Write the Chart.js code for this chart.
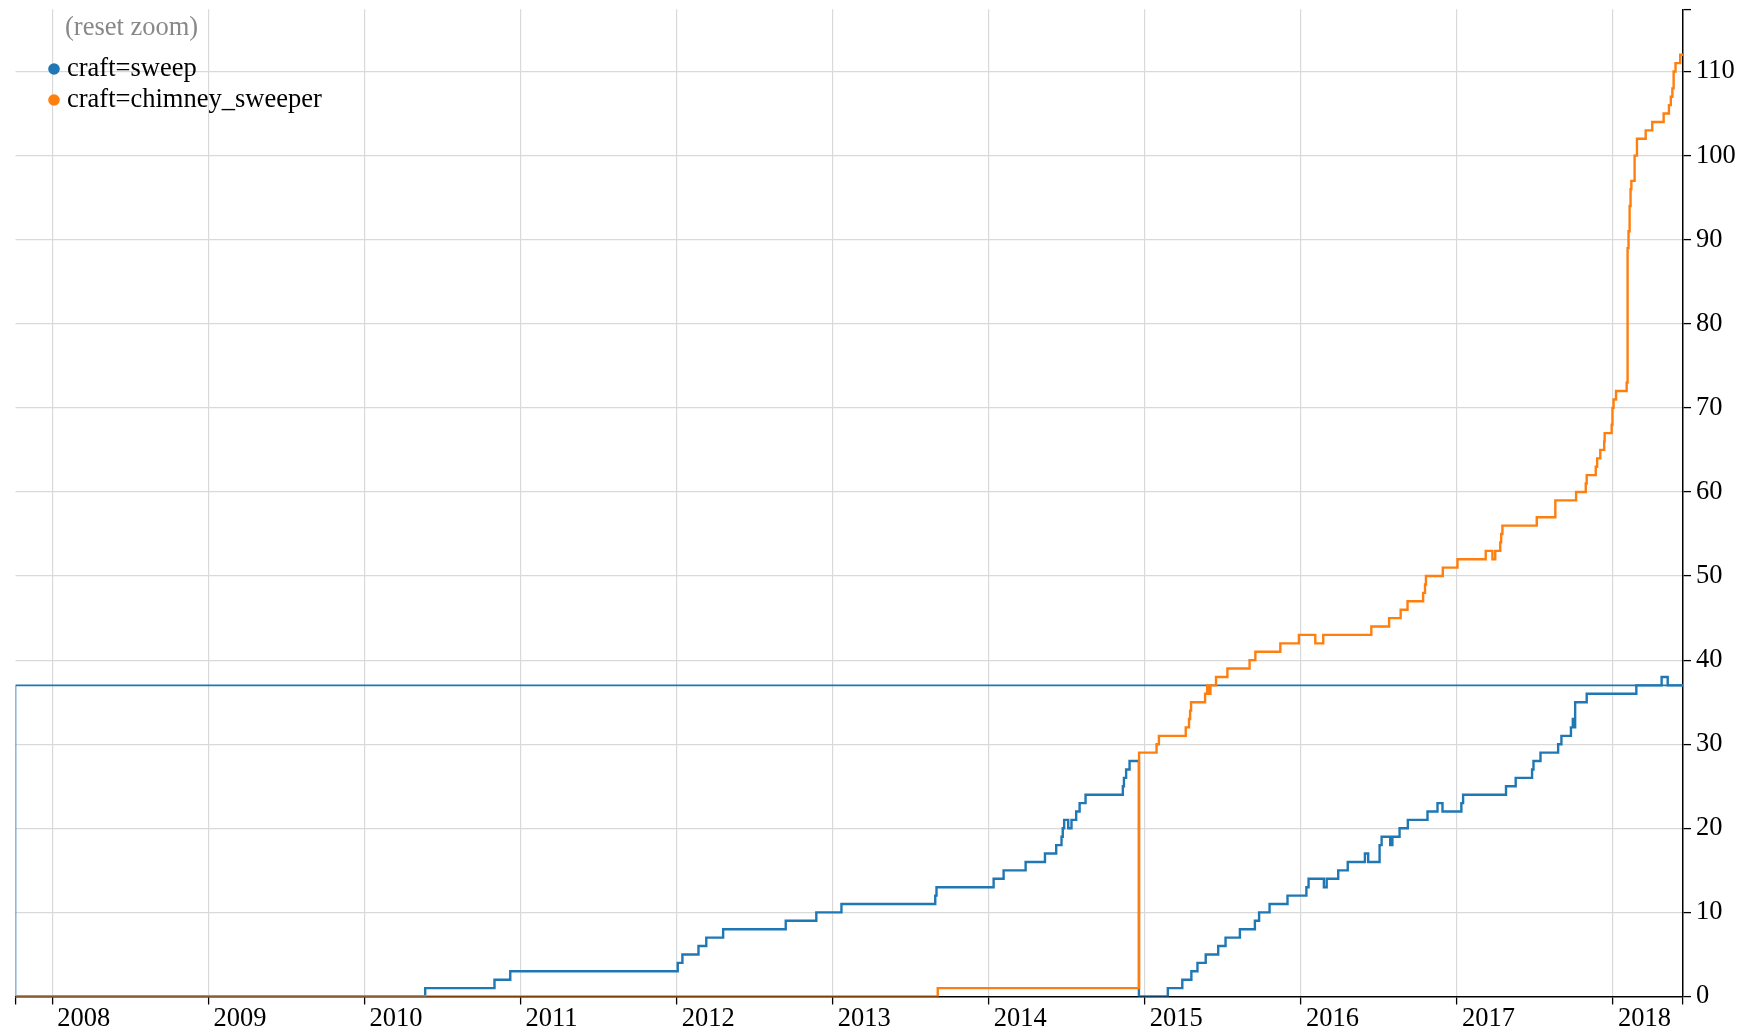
<!DOCTYPE html>
<html>
<head>
<meta charset="utf-8">
<title>craft=sweep / craft=chimney_sweeper</title>
<script src="https://cdn.jsdelivr.net/npm/chart.js@4.4.1/dist/chart.umd.min.js"></script>
<style>
  html, body { margin: 0; padding: 0; background: #fff; }
  canvas { display: block; }
</style>
</head>
<body>
<canvas id="chart" width="1756" height="1035"></canvas>
<script>
// x values are decimal years, y values are running counts
const xMin = 2007.764;
const xMax = 2018.448;
const yMax = 117.4;

const yearTicks = [2008, 2009, 2010, 2011, 2012, 2013, 2014, 2015, 2016, 2017, 2018];
const countTicks = [0, 10, 20, 30, 40, 50, 60, 70, 80, 90, 100, 110];

const seriesLabels = ['craft=sweep', 'craft=chimney_sweeper'];
const seriesColors = ['#1f77b4', '#ff7f0e'];

// the sweep path runs back to the start at the end, as in the picture
const sweepDates = [
  2007.764, 2010.389, 2010.833, 2010.934, 2012.007, 2012.037, 2012.14, 2012.19, 2012.298,
  2012.699, 2012.895, 2013.056, 2013.657, 2013.665, 2014.031, 2014.095, 2014.236, 2014.36,
  2014.432, 2014.466, 2014.474, 2014.483, 2014.509, 2014.53, 2014.56, 2014.582, 2014.62,
  2014.859, 2014.866, 2014.88, 2014.902, 2014.962, 2015.147, 2015.24, 2015.298, 2015.337,
  2015.39, 2015.47, 2015.517, 2015.609, 2015.705, 2015.732, 2015.799, 2015.914, 2016.035,
  2016.049, 2016.147, 2016.165, 2016.239, 2016.30, 2016.41, 2016.431, 2016.504, 2016.517,
  2016.572, 2016.586, 2016.632, 2016.685, 2016.811, 2016.875, 2016.907, 2017.028, 2017.039,
  2017.314, 2017.376, 2017.481, 2017.49, 2017.535, 2017.648, 2017.669, 2017.73, 2017.742,
  2017.75, 2017.757, 2017.831, 2018.149, 2018.311, 2018.35, 2018.448, 2007.764
];
const sweepCounts = [
  0, 1, 2, 3, 4, 5, 6, 7, 8,
  9, 10, 11, 12, 13, 14, 15, 16, 17,
  18, 19, 20, 21, 20, 21, 22, 23, 24,
  25, 26, 27, 28, 0, 1, 2, 3, 4,
  5, 6, 7, 8, 9, 10, 11, 12, 13,
  14, 13, 14, 15, 16, 17, 16, 18, 19,
  18, 19, 20, 21, 22, 23, 22, 23, 24,
  25, 26, 27, 28, 29, 30, 31, 32, 33,
  32, 35, 36, 37, 38, 37, 37, 0
];

const chimneyDates = [
  2007.764, 2013.673, 2014.963, 2015.075, 2015.09, 2015.262, 2015.283, 2015.29, 2015.296,
  2015.386, 2015.399, 2015.41, 2015.42, 2015.456, 2015.529, 2015.671, 2015.708, 2015.868,
  2015.987, 2016.092, 2016.143, 2016.451, 2016.565, 2016.639, 2016.683, 2016.783, 2016.795,
  2016.801, 2016.909, 2017.003, 2017.184, 2017.227, 2017.245, 2017.277, 2017.283, 2017.291,
  2017.511, 2017.63, 2017.763, 2017.825, 2017.831, 2017.889, 2017.898, 2017.918, 2017.943,
  2017.946, 2017.991, 2017.996, 2018.003, 2018.019, 2018.087, 2018.093, 2018.099, 2018.106,
  2018.112, 2018.117, 2018.138, 2018.153, 2018.209, 2018.251, 2018.324, 2018.358, 2018.37,
  2018.38, 2018.388, 2018.4, 2018.43, 2018.448
];
const chimneyCounts = [
  0, 1, 29, 30, 31, 32, 33, 34, 35,
  36, 37, 36, 37, 38, 39, 40, 41, 42,
  43, 42, 43, 44, 45, 46, 47, 48, 49,
  50, 51, 52, 53, 52, 53, 54, 55, 56,
  57, 59, 60, 61, 62, 63, 64, 65, 66,
  67, 68, 70, 71, 72, 73, 89, 91, 94,
  96, 97, 100, 102, 103, 104, 105, 106, 107,
  108, 110, 111, 112, 112
];

const toPoints = (xs, ys) => xs.map((x, i) => ({ x, y: ys[i] }));

const serif = '"Liberation Serif", "Times New Roman", serif';
const fontSize = 26.5;
const gridGray = '#d9d9d9';
const clear = 'rgba(0,0,0,0)';

Chart.defaults.font.family = serif;
Chart.defaults.font.size = fontSize;
Chart.defaults.color = '#000';

// "(reset zoom)" note and the dot legend in the top left corner
const cornerText = {
  id: 'cornerText',
  afterDraw(chart) {
    const ctx = chart.ctx;
    ctx.save();
    ctx.font = fontSize + 'px ' + serif;
    ctx.textBaseline = 'alphabetic';
    ctx.fillStyle = '#888';
    ctx.fillText('(reset zoom)', 65, 35);
    seriesLabels.forEach((label, i) => {
      const cy = 69 + i * 31;
      ctx.fillStyle = seriesColors[i];
      ctx.beginPath();
      ctx.arc(54, cy, 5.8, 0, Math.PI * 2);
      ctx.fill();
      ctx.fillStyle = '#000';
      ctx.fillText(label, 67, cy + 7);
    });
    ctx.restore();
  }
};

new Chart(document.getElementById('chart'), {
  type: 'line',
  data: {
    datasets: [
      {
        label: seriesLabels[0],
        data: toPoints(sweepDates, sweepCounts),
        borderColor: seriesColors[0],
        backgroundColor: seriesColors[0],
        borderWidth: 2.4,
        stepped: true,
        pointRadius: 0,
        fill: false,
        order: 2,
        // the jump back to the start is drawn thinner
        segment: {
          borderWidth: (c) => (c.p1.parsed.x < c.p0.parsed.x ? 1.6 : 2.4)
        }
      },
      {
        label: seriesLabels[1],
        data: toPoints(chimneyDates, chimneyCounts),
        borderColor: seriesColors[1],
        backgroundColor: seriesColors[1],
        borderWidth: 2.4,
        stepped: true,
        pointRadius: 0,
        fill: false,
        order: 1
      }
    ]
  },
  options: {
    responsive: false,
    animation: false,
    devicePixelRatio: 1,
    layout: { padding: { left: 15.5, top: 9.3, right: 0, bottom: 0 } },
    plugins: {
      legend: { display: false },
      tooltip: { enabled: false }
    },
    scales: {
      x: {
        type: 'linear',
        position: 'bottom',
        min: xMin,
        max: xMax,
        afterBuildTicks: (scale) => {
          scale.ticks = [xMin, ...yearTicks, xMax].map((value) => ({ value }));
        },
        afterFit: (scale) => {
          scale.height = 38.5;
          scale.paddingLeft = 0;
          scale.paddingRight = 0;
        },
        ticks: {
          autoSkip: false,
          maxRotation: 0,
          minRotation: 0,
          align: 'start',
          labelOffset: 5,
          padding: 1,
          font: { size: fontSize, lineHeight: 1 },
          callback: (value) => (yearTicks.includes(value) ? String(value) : '')
        },
        grid: {
          color: (c) => (c.tick && yearTicks.includes(c.tick.value) ? gridGray : clear),
          lineWidth: 1.2,
          tickLength: 8,
          tickColor: '#000',
          tickWidth: 1.3
        },
        border: { display: true, color: '#000', width: 1.5 }
      },
      y: {
        type: 'linear',
        position: 'right',
        min: 0,
        max: yMax,
        afterBuildTicks: (scale) => {
          scale.ticks = [...countTicks, yMax].map((value) => ({ value }));
        },
        afterFit: (scale) => {
          scale.width = 73;
          scale.paddingTop = 0;
          scale.paddingBottom = 0;
        },
        ticks: {
          autoSkip: false,
          padding: 5,
          font: { size: fontSize, lineHeight: 1 },
          callback: (value) => (countTicks.includes(value) ? String(value) : '')
        },
        grid: {
          color: (c) => (c.tick && c.tick.value > 0 && countTicks.includes(c.tick.value) ? gridGray : clear),
          lineWidth: 1.2,
          tickLength: 8,
          tickColor: '#000',
          tickWidth: 1.3
        },
        border: { display: true, color: '#000', width: 1.5 }
      }
    }
  },
  plugins: [cornerText]
});
</script>
</body>
</html>
